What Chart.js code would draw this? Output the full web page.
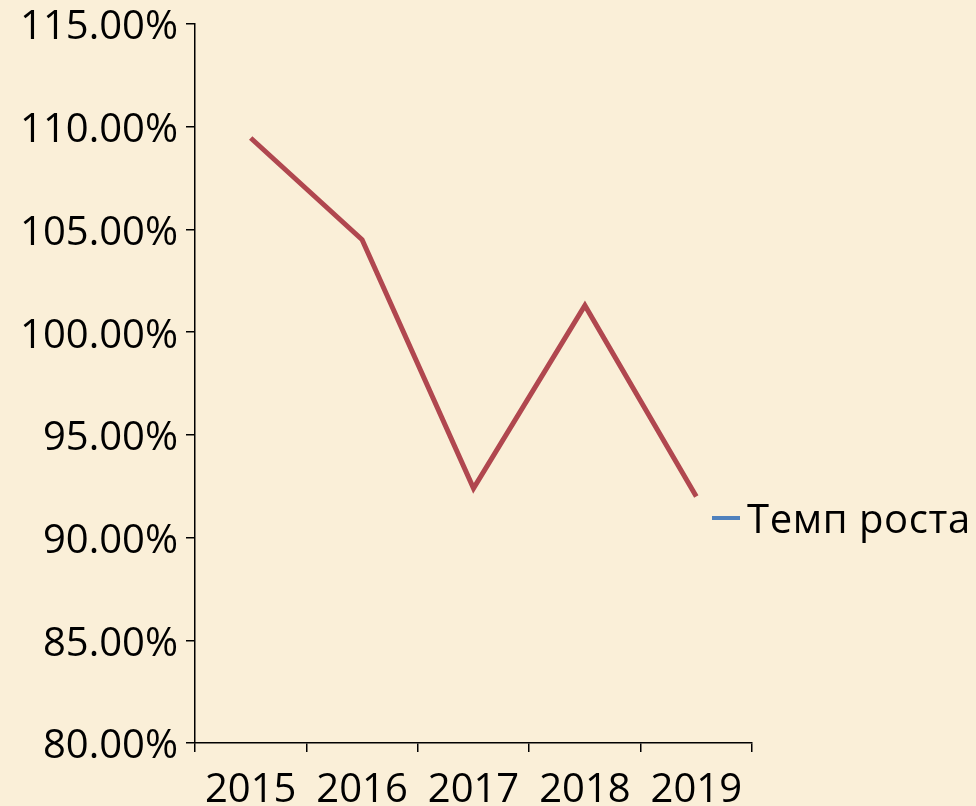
<!DOCTYPE html>
<html lang="ru">
<head>
<meta charset="utf-8">
<title>Темп роста</title>
<script src="https://cdn.jsdelivr.net/npm/chart.js@4/dist/chart.umd.min.js"></script>
<style>
  html, body { margin: 0; padding: 0; }
  body {
    width: 976px; height: 806px; overflow: hidden;
    background: #faefd8;
    font-family: 'Open Sans', sans-serif;
  }
  .wrap { position: relative; width: 976px; height: 806px; }
  #legend {
    position: absolute; left: 712px; top: 490px;
    display: flex; align-items: center;
    font-size: 40px; letter-spacing: 0.6px; color: #000; white-space: nowrap;
  }
  #legend .mark { width: 28px; height: 4px; background: #4f81bd; margin-right: 7px; }
</style>
</head>
<body>
<div class="wrap">
  <canvas id="chart" width="976" height="806"></canvas>
  <div id="legend"><span class="mark"></span><span id="legend-label"></span></div>
</div>
<script>
'use strict';

// ── Data ──────────────────────────────────────────────────
const YEARS  = ['2015', '2016', '2017', '2018', '2019'];
const GROWTH = [109.45, 104.5, 92.4, 101.3, 92.0];   // %
const SERIES = 'Темп роста';
const Y_MIN = 80, Y_MAX = 115, Y_STEP = 5;

// ── Style ─────────────────────────────────────────────────
const C = { line: '#b0474f', axis: '#000', text: '#000' };
const FONT = { family: "'Open Sans', sans-serif", size: 40, lineHeight: 1 };

document.getElementById('legend-label').textContent = SERIES;

new Chart(document.getElementById('chart'), {
  type: 'line',
  data: {
    labels: YEARS,
    datasets: [{
      label: SERIES,
      data: GROWTH,
      borderColor: C.line,
      borderWidth: 5,
      pointRadius: 0,
      tension: 0,
      fill: false,
    }]
  },
  options: {
    responsive: false,
    animation: false,
    layout: { padding: { top: 24, right: 224, bottom: 0, left: 0 } },
    plugins: { legend: { display: false }, tooltip: { enabled: false } },
    scales: {
      x: {
        offset: true,
        grid: { display: true, offset: true, drawOnChartArea: false, color: C.axis, tickLength: 9, lineWidth: 1.5 },
        border: { color: C.axis, width: 1.5 },
        ticks: { font: FONT, color: C.text, padding: 19, maxRotation: 0 },
        afterFit: s => { s.height = 63; },
      },
      y: {
        min: Y_MIN, max: Y_MAX,
        grid: { display: true, drawOnChartArea: false, color: C.axis, tickLength: 9, lineWidth: 1.5 },
        border: { color: C.axis, width: 1.5 },
        ticks: {
          stepSize: Y_STEP, font: FONT, color: C.text, padding: 8, labelOffset: 4,
          callback: v => v.toFixed(2) + '%',
        },
        afterFit: s => { s.width = 195; s.paddingTop = 0; s.paddingBottom = 0; },
      }
    }
  }
});
</script>
</body>
</html>
